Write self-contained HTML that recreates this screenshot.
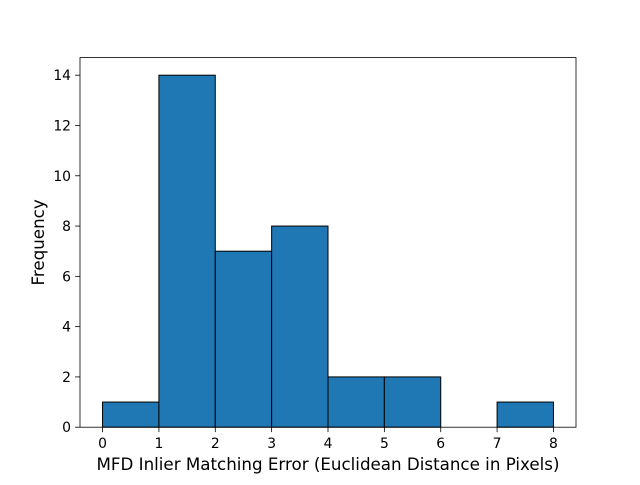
<!DOCTYPE html>
<html><head><meta charset="utf-8"><style>
body{margin:0;background:#fff;}
svg text{font-family:"DejaVu Sans","Liberation Sans",sans-serif;fill:#000;}
</style></head><body>
<svg id="chart" width="640" height="480" xmlns="http://www.w3.org/2000/svg"></svg>
<script>
const binEdges=[0,1,2,3,4,5,6,7,8];
const counts=[1,14,7,8,2,2,0,1];
const xTicks=[0,1,2,3,4,5,6,7,8];
const yTicks=[0,2,4,6,8,10,12,14];
const L=80,R=576,T=57.6,B=427.2;
const xmin=-0.4,xmax=8.4,ymin=0,ymax=14.7;
const sx=v=>L+(v-xmin)/(xmax-xmin)*(R-L);
const sy=v=>B-(v-ymin)/(ymax-ymin)*(B-T);
const svg=document.getElementById('chart');
const NS='http://www.w3.org/2000/svg';
function mk(tag,attrs){const e=document.createElementNS(NS,tag);for(const k in attrs)e.setAttribute(k,attrs[k]);svg.appendChild(e);return e;}
for(let i=0;i<counts.length;i++){
 const x0=sx(binEdges[i]),x1=sx(binEdges[i+1]),y=sy(counts[i]);
 const r=mk('rect',{x:x0,y:y,width:x1-x0,height:sy(0)-y,fill:'#1f77b4',stroke:'#000','stroke-width':1});
 
 
}
const frame=mk('rect',{x:L,y:T,width:R-L,height:B-T,fill:'none',stroke:'#000','stroke-width':0.8});


xTicks.forEach(v=>{
 const x=sx(v);
 mk('line',{x1:x,x2:x,y1:B,y2:B+4.9,stroke:'#000','stroke-width':0.8});
 const t=mk('text',{x:x,y:B+21,'text-anchor':'middle','font-size':13.9});
 t.textContent=v;
 
 
});
yTicks.forEach(v=>{
 const y=sy(v);
 mk('line',{x1:L-4.9,x2:L,y1:y,y2:y,stroke:'#000','stroke-width':0.8});
 const t=mk('text',{x:L-9,y:y+5,'text-anchor':'end','font-size':13.9});
 t.textContent=v;
 
 
});
const xt=mk('text',{x:(L+R)/2,y:470,'text-anchor':'middle','font-size':16.7});
xt.textContent='MFD Inlier Matching Error (Euclidean Distance in Pixels)';


const yt=mk('text',{x:44,y:(T+B)/2,'text-anchor':'middle','font-size':16.7,transform:'rotate(-90 44 '+((T+B)/2)+')'});
yt.textContent='Frequency';


</script>
</body></html>
